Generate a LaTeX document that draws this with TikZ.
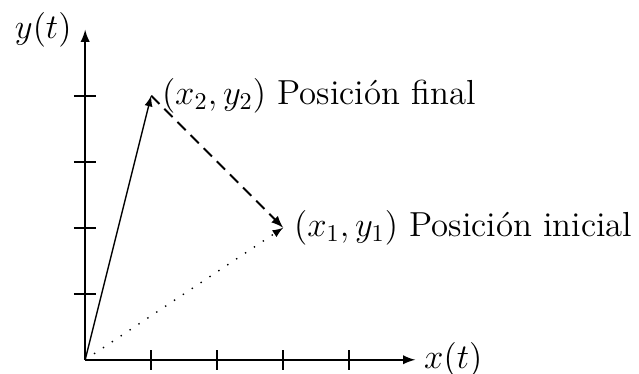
\documentclass[tikz,border=0pt]{standalone}
\usepackage{tikz}
\usetikzlibrary{arrows,positioning}

\begin{document}
\begin{tikzpicture}[>=latex, font=\Large, every node/.style={scale=1.04}]
    \useasboundingbox (-1.29,-0.21) rectangle (8.39,5.45);
    % Axes
    \coordinate (O) at (0,0);
    \coordinate (xend) at (5,0);
    \coordinate (yend) at (0,5);
    \draw[->, thick] (O) -- (xend) node (xlab) [right] {$x(t)$};
    \draw[->, thick] (O) -- (yend) node (ylab) [left=2pt] {$y(t)$};

    % Ticks
    \foreach \k in {1,2,3,4} {
        \draw[thick] (\k,-0.15) -- (\k,0.15);
        \draw[thick] (-0.17,\k) -- (0.17,\k);
    }

    % Points
    \coordinate (P1) at (3,2);
    \coordinate (P2) at (1,4);
    \node (lab1) [right=1pt] at (P1) {$(x_1,y_1)$ Posici\'on inicial};
    \node (lab2) [right=1pt] at (P2) {$(x_2,y_2)$ Posici\'on final};

    % Vectors
    \draw[->, semithick, loosely dotted] (O) -- (P1);
    \draw[->, semithick] (O) -- (P2);
    \draw[->, thick, dash pattern=on 5pt off 3pt] (P2) -- (P1);
\end{tikzpicture}
\end{document}
